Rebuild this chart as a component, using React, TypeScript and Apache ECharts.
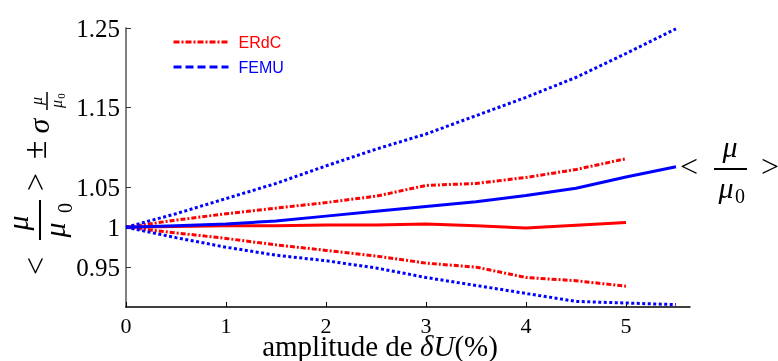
import React, { useEffect, useRef } from "react";
import * as echarts from "echarts";

const xFemu = [0, 0.5, 1, 1.5, 2, 2.5, 3, 3.5, 4, 4.5, 5, 5.5];
const femuUpper = [1, 1.017, 1.036, 1.055, 1.077, 1.098, 1.117, 1.14, 1.163, 1.188, 1.218, 1.249];
const femuMean = [1, 1.002, 1.004, 1.008, 1.014, 1.02, 1.026, 1.032, 1.04, 1.049, 1.063, 1.076];
const femuLower = [1, 0.987, 0.975, 0.965, 0.958, 0.949, 0.937, 0.927, 0.917, 0.907, 0.905, 0.903];

const xErdc = [0, 0.5, 1, 1.5, 2, 2.5, 3, 3.5, 4, 4.5, 5];
const erdcUpper = [1, 1.009, 1.017, 1.024, 1.031, 1.039, 1.0525, 1.055, 1.0625, 1.0725, 1.086];
const erdcMean = [1, 1.001, 1.002, 1.002, 1.003, 1.003, 1.004, 1.002, 0.999, 1.0025, 1.006];
const erdcLower = [1, 0.993, 0.986, 0.978, 0.971, 0.964, 0.955, 0.95, 0.937, 0.933, 0.926];

const xTicks = [0, 1, 2, 3, 4, 5];
const yTicks = [0.95, 1, 1.05, 1.15, 1.25];

const RED = "#ff0000";
const BLUE = "#0000ff";
const SERIF = "'Liberation Serif', 'DejaVu Serif', serif";

const zip = (xs: number[], ys: number[]) => xs.map((x, i) => [x, ys[i]]);

const txt = (text: string, x: number, y: number, size: number, italic = false) => ({
  type: "text",
  x,
  y,
  style: {
    text,
    font: `${italic ? "italic " : ""}${size}px ${SERIF}`,
    fill: "#000",
    align: "center",
    verticalAlign: "middle",
  },
});

export default function App() {
  const ref = useRef<HTMLDivElement>(null);
  useEffect(() => {
    if (!ref.current) return;
    const chart = echarts.init(ref.current, undefined, { renderer: "svg" });
    const dashDot = [5, 2, 2, 2];
    const dotted = [3, 2.5];
    const line = (name: string, xs: number[], ys: number[], color: string, type: any, z: number) => ({
      type: "line",
      name,
      data: zip(xs, ys),
      showSymbol: false,
      symbol: "none",
      z,
      lineStyle: { color, width: 3, type },
      itemStyle: { color },
    });
    chart.setOption({
      animation: false,
      grid: { left: 126, right: 88, top: 28, bottom: 54 },
      legend: {
        orient: "vertical",
        left: 167,
        top: 29,
        itemWidth: 55,
        itemHeight: 12,
        itemGap: 9,
        data: [
          {
            name: "ERdC",
            itemStyle: { opacity: 0 },
            lineStyle: { color: RED, width: 3, type: [6, 2, 2, 2] },
            textStyle: { color: RED },
          },
          {
            name: "FEMU",
            itemStyle: { opacity: 0 },
            lineStyle: { color: BLUE, width: 3, type: [8, 4] },
            textStyle: { color: BLUE },
          },
        ],
        textStyle: { fontFamily: "'Liberation Sans', Arial, sans-serif", fontSize: 16, padding: [0, 0, 0, 5] },
      },
      xAxis: {
        type: "value",
        min: 0,
        max: 5.64,
        splitLine: { show: false },
        axisLine: { lineStyle: { color: "#000", width: 1.5 } },
        axisTick: { inside: true, length: 5, customValues: xTicks, lineStyle: { color: "#000" } },
        axisLabel: { customValues: xTicks, fontFamily: SERIF, fontSize: 22, lineHeight: 20, color: "#000", margin: 8 },
      },
      yAxis: {
        type: "value",
        min: 0.9,
        max: 1.25,
        splitLine: { show: false },
        axisLine: { show: true, lineStyle: { color: "#808080", width: 2 } },
        axisTick: { show: true, inside: true, length: 5, customValues: yTicks, lineStyle: { color: "#333" } },
        axisLabel: { customValues: yTicks, fontFamily: SERIF, fontSize: 25, color: "#000", margin: 6 },
      },
      series: [
        line("ERdC mean", xErdc, erdcMean, RED, "solid", 3),
        line("FEMU mean", xFemu, femuMean, BLUE, "solid", 4),
        line("ERdC", xErdc, erdcUpper, RED, dashDot, 2),
        line("ERdC", xErdc, erdcLower, RED, dashDot, 2),
        line("FEMU", xFemu, femuUpper, BLUE, dotted, 5),
        line("FEMU", xFemu, femuLower, BLUE, dotted, 5),
      ],
      graphic: [
        {
          type: "text",
          x: 380,
          y: 346,
          style: {
            text: "{n|amplitude de }{i|δU}{n|(%)}",
            align: "center",
            verticalAlign: "middle",
            rich: {
              n: { fontFamily: SERIF, fontSize: 29, lineHeight: 24, fill: "#000" },
              i: { fontFamily: SERIF, fontStyle: "italic", fontSize: 29, lineHeight: 24, fill: "#000" },
            },
          },
        },
        {
          type: "group",
          x: 40,
          y: 277,
          rotation: Math.PI / 2,
          children: [
            txt("<", 11, -5, 32),
            { type: "line", shape: { x1: 37, y1: 0, x2: 77, y2: 0 }, style: { stroke: "#000", lineWidth: 2 } },
            txt("μ", 54, -23, 30, true),
            txt("μ", 47, 14.5, 30, true),
            txt("0", 69, 25, 20),
            txt(">", 95, -5, 32),
            txt("±", 127, -6, 34),
            txt("σ", 151, -2, 30, true),
            { type: "line", shape: { x1: 167, y1: 7, x2: 185, y2: 7 }, style: { stroke: "#000", lineWidth: 1.5 } },
            txt("μ", 176, -3.5, 16, true),
            txt("μ", 173, 16.5, 16, true),
            txt("0", 181, 21, 11),
          ],
        },
        txt("<", 689, 166, 32),
        { type: "line", shape: { x1: 714, y1: 169, x2: 747, y2: 169 }, style: { stroke: "#000", lineWidth: 2 } },
        txt("μ", 730, 146, 30, true),
        txt("μ", 726, 187, 30, true),
        txt("0", 740, 196, 20),
        txt(">", 770, 166, 32),
      ],
    });
    return () => chart.dispose();
  }, []);
  return <div ref={ref} style={{ position: "fixed", left: 0, top: 0, width: 778, height: 361 }} />;
}
